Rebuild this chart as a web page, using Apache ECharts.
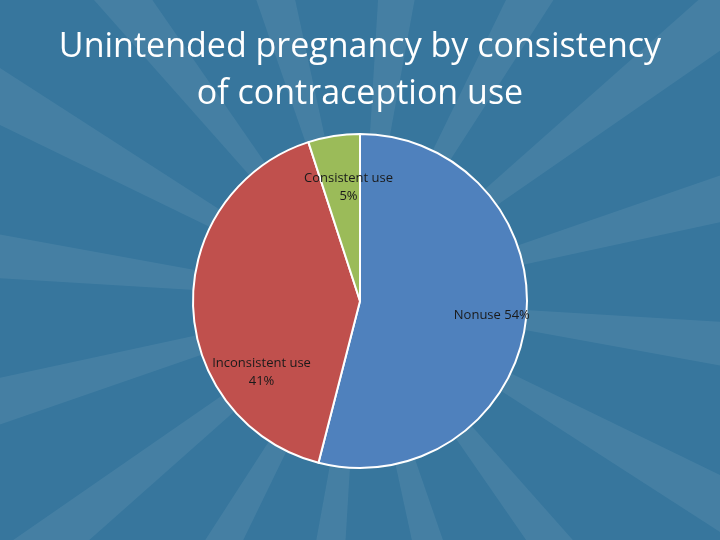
<!DOCTYPE html>
<html><head><meta charset="utf-8">
<script src="https://cdn.jsdelivr.net/npm/echarts@6/dist/echarts.min.js"></script>
<style>html,body{margin:0;padding:0;background:#37769d}#c{width:720px;height:540px}</style>
</head><body><div id="c"></div>
<script>
const categories = ['Nonuse', 'Inconsistent use', 'Consistent use'];
const values = [54, 41, 5];
const colors = ['#4f81bd', '#c0504d', '#9bbb59'];
const labelTexts = ['Nonuse 54%', 'Inconsistent use\n41%', 'Consistent use\n5%'];
const labelOffsets = [[46, 3], [-12, 69], [2, -28]];

const chart = echarts.init(document.getElementById('c'));
const rays = [];
const cx = 360, cy = 300, R = 900;
for (let i = 0; i < 16; i++) {
  const a = (i / 16) * Math.PI * 2 + 0.12, w = 0.06;
  rays.push({type: 'polygon', silent: true, z: -10,
    shape: {points: [[cx, cy], [cx + R * Math.cos(a - w), cy + R * Math.sin(a - w)], [cx + R * Math.cos(a + w), cy + R * Math.sin(a + w)]]},
    style: {fill: 'rgba(255,255,255,0.07)'}});
}
chart.setOption({
  backgroundColor: '#37769d',
  graphic: rays,
  title: {text: 'Unintended pregnancy by consistency\nof contraception use', left: 'center', top: 19,
    textStyle: {color: '#ffffff', fontSize: 34, fontWeight: 'normal', fontFamily: 'Open Sans', lineHeight: 47}},
  series: [{
    type: 'pie', center: [360, 301], radius: 167, startAngle: 90, clockwise: true,
    itemStyle: {borderColor: '#ffffff', borderWidth: 2},
    label: {position: 'inside', color: '#1a1a1a', fontSize: 13, fontFamily: 'Open Sans', lineHeight: 18},
    labelLine: {show: false},
    data: categories.map((n, i) => ({name: n, value: values[i], itemStyle: {color: colors[i]},
      label: {formatter: labelTexts[i], offset: labelOffsets[i]}}))
  }]
});
</script></body></html>
